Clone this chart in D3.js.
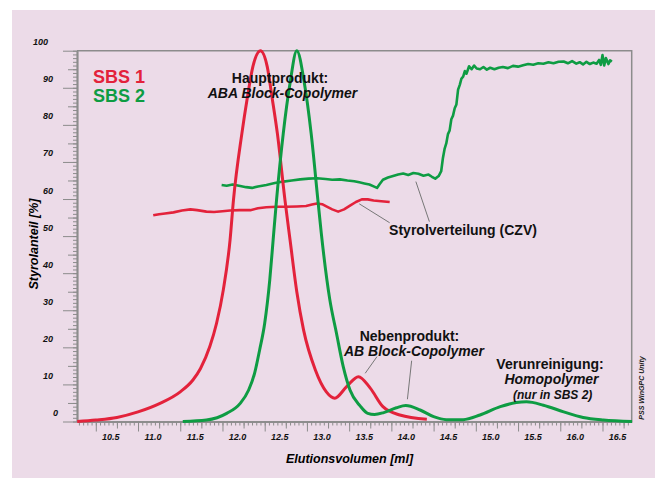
<!DOCTYPE html>
<html>
<head>
<meta charset="utf-8">
<script src="https://cdn.jsdelivr.net/npm/d3@7"></script>
<style>
  body { margin: 0; background: #fff; }
  text { font-family: "Liberation Sans", Arial, sans-serif; font-weight: bold; }
</style>
</head>
<body>
<svg id="chart" width="659" height="478"></svg>
<script>
// chromatograms [ml, %]
const sbs1Peak = [[10.28,0],[10.5,0.4],[10.75,1.1],[11.0,2.6],[11.26,4.9],[11.5,8.0],[11.65,11.2],[11.74,14.3],
  [11.85,20.2],[11.93,26.5],[12.01,35.5],[12.09,49],[12.13,59.7],[12.23,77.7],[12.29,86.7],[12.36,95.7],[12.45,100],
  [12.53,95.7],[12.59,87],[12.65,77.7],[12.74,59.7],[12.8,49],[12.88,35],[12.96,24.7],[13.1,13.9],[13.23,8],
  [13.33,6.3],[13.47,9.4],[13.61,12.1],[13.75,9],[13.9,4],[14.1,1.75],[14.42,0.6]];

const sbs2Peak = [[11.53,0],[11.81,0.4],[12.05,2.2],[12.21,4.9],[12.31,8.5],[12.38,13],[12.44,19.3],[12.5,26.5],
  [12.56,38.2],[12.6,49],[12.64,59.7],[12.72,77.7],[12.8,91.2],[12.88,100],[12.97,91.2],[13.05,77.7],[13.13,59.7],
  [13.17,50.8],[13.27,33],[13.35,23.8],[13.43,14.8],[13.51,8.5],[13.63,4.2],[13.72,2.2],[13.8,1.9],[13.91,2.4],
  [14.06,3.7],[14.17,4.3],[14.34,3.1],[14.5,1.3],[14.65,0.5],[14.85,0.5],[15.05,1.75],[15.29,4],[15.48,5.1],
  [15.6,5.3],[15.8,4.4],[16.04,2.6],[16.27,1.1],[16.51,0.4],[16.85,0]];

// styrene distribution (CZV)
const sbs1Czv = [[11.18,55.6],[11.25,55.9],[11.32,56.1],[11.42,56.4],[11.52,56.9],[11.62,57.2],[11.7,57.0],
  [11.81,56.6],[11.9,56.5],[12.0,56.7],[12.09,56.9],[12.2,57.0],[12.33,57.0],[12.42,57.5],[12.52,57.8],[12.64,57.9],
  [12.76,57.9],[12.88,58.0],[12.99,58.1],[13.06,58.5],[13.12,58.8],[13.18,58.6],[13.23,58.0],[13.3,57.2],
  [13.37,56.6],[13.44,57.2],[13.51,58.2],[13.58,59.2],[13.65,59.9],[13.72,59.9],[13.79,59.6],[13.88,59.4],[13.98,59.2]];

const sbs2Czv = [[11.99,63.8],[12.05,63.6],[12.12,63.9],[12.21,63.5],[12.28,63.2],[12.35,63.0],[12.42,63.4],
  [12.52,63.8],[12.62,64.3],[12.72,64.7],[12.82,65.0],[12.92,65.3],[13.02,65.5],[13.12,65.6],[13.22,65.4],
  [13.3,65.2],[13.39,65.3],[13.48,65.0],[13.56,64.8],[13.62,64.5],[13.68,64.2],[13.74,63.9],[13.79,63.4],
  [13.83,63.0],[13.86,64.0],[13.9,65.2],[13.96,65.8],[14.02,66.2],[14.08,66.6],[14.14,66.9],[14.2,66.5],
  [14.26,67.0],[14.32,66.8],[14.38,66.3],[14.44,66.6],[14.48,66.0],[14.52,65.5],[14.56,66.2],[14.59,67.5],
  [14.61,71],[14.63,73.5],[14.65,75],[14.67,77.5],[14.69,78.5],[14.71,81.5],[14.73,82.5],[14.75,84.5],
  [14.77,85.5],[14.79,89.5],[14.81,90.8],[14.83,92.5],[14.85,93.0],[14.87,94.5],[14.89,93.8],[14.92,95.8],
  [14.95,95.0],[14.98,96.0],[15.01,95.2],[15.05,95.0],[15.09,95.6],[15.13,94.9],[15.17,95.4],[15.22,95.0],
  [15.27,95.4],[15.32,95.6],[15.38,95.3],[15.44,95.9],[15.5,95.7],[15.56,96.1],[15.62,96.4],[15.68,96.2],
  [15.74,96.6],[15.8,96.5],[15.86,96.9],[15.92,96.6],[15.98,97.0],[16.04,97.1],[16.09,96.6],[16.14,97.2],
  [16.19,96.5],[16.23,96.9],[16.27,96.3],[16.31,97.0],[16.35,96.4],[16.39,96.8],[16.43,96.5],[16.46,97.5],
  [16.48,96.2],[16.5,98.8],[16.52,96.0],[16.54,98.0],[16.57,96.4],[16.59,97.4],[16.61,97.0]];

// tick values
const xMajor = d3.range(21, 34).map(i => i / 2);
const xMedium = d3.range(42, 68).map(i => i / 4).filter(v => v % 0.5 !== 0);
const xMinor = d3.range(206, 337).map(i => i / 20);
const yMajor = d3.range(0, 101, 10);
const yMedium = d3.range(5, 100, 10);
const yMinor = d3.range(0, 101);

// leader lines [from, to] in data units
const leaders = [
  [[13.62, 58.7], [13.98, 53.6]],
  [[14.29, 64.7], [14.45, 53.9]],
  [[13.69, 13.0], [13.83, 17.5]],
  [[14.19, 6.0], [14.24, 16.4]]
];

const red = "#e3223b", green = "#0e9c43", axisCol = "#8c8c8c";

const svg = d3.select("#chart");
svg.append("rect").attr("x", 12).attr("y", 10).attr("width", 643).attr("height", 468).attr("fill", "#ecdbe8");

const x = d3.scaleLinear().domain([10.2774, 16.8458]).range([77, 631.7]);
const y = d3.scaleLinear().domain([0, 100]).range([421.5, 50.7]);

// frame (top + right)
svg.append("path")
  .attr("d", `M${x.range()[0]},${y(100)}H${x.range()[1]}V${y(0)}`)
  .attr("fill", "none").attr("stroke", axisCol).attr("stroke-width", 1.5);

function styleAxis(g) {
  g.select(".domain").attr("stroke", axisCol).attr("stroke-width", 1.5);
  g.selectAll(".tick line").attr("stroke", axisCol).attr("stroke-width", 1);
}

// x axis
[[xMinor, 4], [xMedium, 7]].forEach(([vals, len]) => {
  svg.append("g").attr("transform", `translate(0,${y(0)})`)
    .call(d3.axisBottom(x).tickValues(vals).tickSize(len).tickSizeOuter(0).tickFormat(""))
    .call(styleAxis);
});
const gx = svg.append("g").attr("transform", `translate(0,${y(0)})`)
  .call(d3.axisBottom(x).tickValues(xMajor).tickSize(10).tickSizeOuter(0).tickFormat(d3.format(".1f")))
  .call(styleAxis);
gx.selectAll(".tick text")
  .attr("fill", "#111").attr("font-size", 9).attr("font-style", "italic")
  .attr("x", 14.5).attr("y", 18.5).attr("dy", 0);

// y axis
[[yMinor, 4], [yMedium, 9]].forEach(([vals, len]) => {
  svg.append("g").attr("transform", `translate(${x.range()[0]},0)`)
    .call(d3.axisLeft(y).tickValues(vals).tickSize(len).tickSizeOuter(0).tickFormat(""))
    .call(styleAxis);
});
const gy = svg.append("g").attr("transform", `translate(${x.range()[0]},0)`)
  .call(d3.axisLeft(y).tickValues(yMajor).tickSize(14).tickSizeOuter(0).tickFormat(d3.format("d")))
  .call(styleAxis);
gy.selectAll(".tick text")
  .attr("fill", "#111").attr("font-size", 9).attr("font-style", "italic")
  .attr("x", d => (63 - 5 * String(d).length) - x.range()[0])
  .attr("y", -6).attr("dy", 0);

// axis titles
svg.append("text").attr("x", 349.5).attr("y", 462.5).attr("text-anchor", "middle")
  .attr("font-size", 12.5).attr("font-style", "italic").text("Elutionsvolumen [ml]");
svg.append("text").attr("transform", "translate(37.5,244) rotate(-90)").attr("text-anchor", "middle")
  .attr("font-size", 12.5).attr("font-style", "italic").text("Styrolanteil [%]");

// leader lines
svg.append("g").selectAll("line").data(leaders).join("line")
  .attr("x1", d => x(d[0][0])).attr("y1", d => y(d[0][1]))
  .attr("x2", d => x(d[1][0])).attr("y2", d => y(d[1][1]))
  .attr("stroke", "#777").attr("stroke-width", 1);

// curves
const smooth = d3.line().x(d => x(d[0])).y(d => y(d[1])).curve(d3.curveMonotoneX);
const rough = d3.line().x(d => x(d[0])).y(d => y(d[1]));

svg.append("path").datum(sbs1Czv).attr("d", rough).attr("fill", "none")
  .attr("stroke", red).attr("stroke-width", 2.6).attr("stroke-linejoin", "round");
svg.append("path").datum(sbs2Czv).attr("d", rough).attr("fill", "none")
  .attr("stroke", green).attr("stroke-width", 2.6).attr("stroke-linejoin", "round");
svg.append("path").datum(sbs1Peak).attr("d", smooth).attr("fill", "none")
  .attr("stroke", red).attr("stroke-width", 3);
svg.append("path").datum(sbs2Peak).attr("d", smooth).attr("fill", "none")
  .attr("stroke", green).attr("stroke-width", 3);

// legend
svg.append("text").attr("x", 93).attr("y", 82.5).attr("font-size", 18).attr("fill", red).text("SBS 1");
svg.append("text").attr("x", 93).attr("y", 101.5).attr("font-size", 18).attr("fill", green).text("SBS 2");

// annotations
const notes = [
  ["Hauptprodukt:", 280, 82.5, 14, "normal"],
  ["ABA Block-Copolymer", 282.5, 97.7, 14, "italic"],
  ["Styrolverteilung (CZV)", 463, 235, 14, "normal"],
  ["Nebenprodukt:", 409.5, 340.8, 14, "normal"],
  ["AB Block-Copolymer", 414, 356.3, 14, "italic"],
  ["Verunreinigung:", 550, 369, 14, "normal"],
  ["Homopolymer", 551.5, 384.3, 14, "italic"],
  ["(nur in SBS 2)", 552.7, 399.3, 12, "italic"]
];
svg.append("g").selectAll("text").data(notes).join("text")
  .attr("x", d => d[1]).attr("y", d => d[2]).attr("text-anchor", "middle")
  .attr("font-size", d => d[3]).attr("font-style", d => d[4]).attr("fill", "#111")
  .text(d => d[0]);

svg.append("text").attr("transform", "translate(643.5,388) rotate(-90)").attr("text-anchor", "middle")
  .attr("font-size", 7).attr("font-style", "italic").attr("fill", "#222").text("PSS WinGPC Unity");
</script>
</body>
</html>
